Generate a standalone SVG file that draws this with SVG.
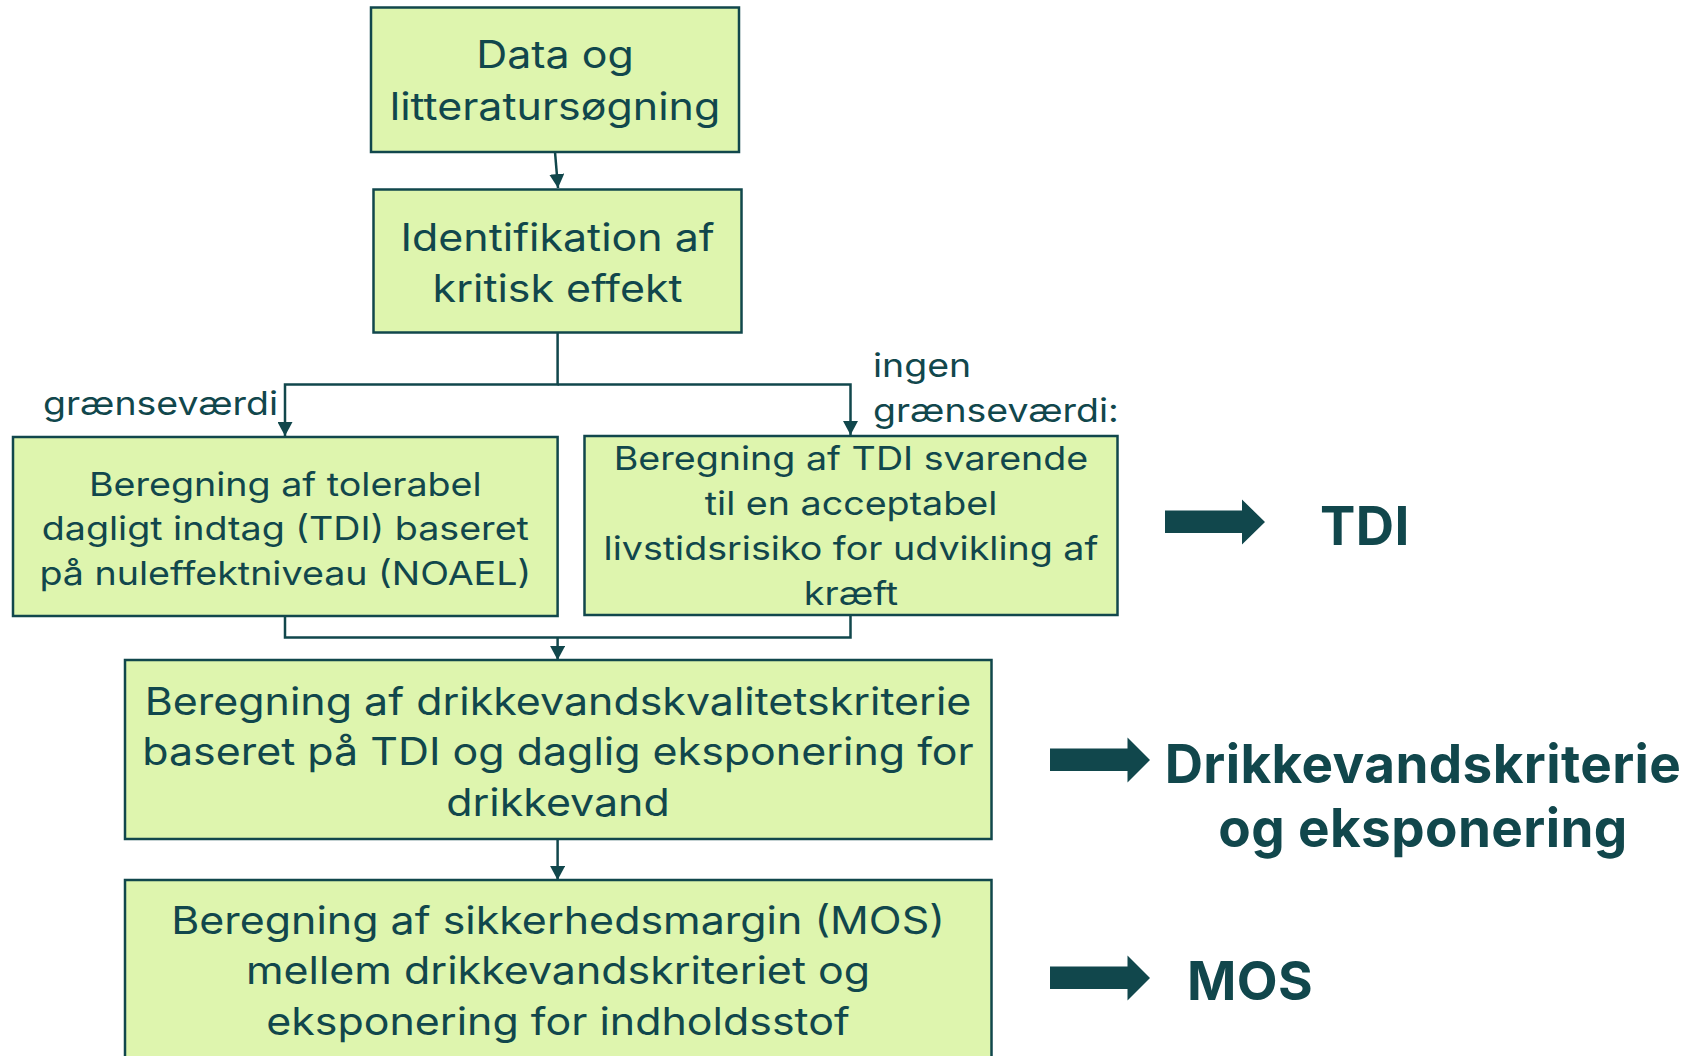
<svg xmlns="http://www.w3.org/2000/svg" width="1688" height="1056" viewBox="0 0 1688 1056">
<defs>
<style>
.box{fill:#def5ae;stroke:#11474c;stroke-width:2.5}
.t{font-family:Inter,"Noto Sans","Liberation Sans",sans-serif;fill:#11474c;text-anchor:middle}
.l{font-size:38px}
.s{font-size:33px}
.lab{font-family:Inter,"Noto Sans","Liberation Sans",sans-serif;fill:#11474c;font-size:33px}
.b{font-family:Inter,"Noto Sans","Liberation Sans",sans-serif;fill:#11474c;font-size:53px;font-weight:700;letter-spacing:0.4px}
.c{fill:none;stroke:#11474c;stroke-width:2.5}
.big{fill:#11474c}
</style>
<marker id="ah" markerWidth="14" markerHeight="15" refX="14" refY="7.5" orient="auto" markerUnits="userSpaceOnUse">
<path d="M0,0 L14,7.5 L0,15 z" fill="#11474c"/>
</marker>
</defs>
<rect width="1688" height="1056" fill="#ffffff"/>
<g id="connectors">
<path class="c" d="M555,152 L558,188" marker-end="url(#ah)"/>
<path class="c" d="M557.6,333 V384.5 H285 V436" marker-end="url(#ah)"/>
<path class="c" d="M557.6,384.5 H850.5 V435" marker-end="url(#ah)"/>
<path class="c" d="M285,616 V637.5 H850.5 V615"/>
<path class="c" d="M557.6,637.5 V660" marker-end="url(#ah)"/>
<path class="c" d="M557.6,839 V880" marker-end="url(#ah)"/>
</g>
<g id="node-data">
<rect class="box" x="371" y="7.5" width="368" height="144.5"/>
<g transform="translate(555,0) scale(1.13,1)">
<text class="t l" x="0" y="68">Data og</text>
<text class="t l" x="0" y="120">litteratursøgning</text>
</g>
</g>
<g id="node-identifikation">
<rect class="box" x="373.5" y="189.5" width="368" height="143"/>
<g transform="translate(557.6,0) scale(1.13,1)">
<text class="t l" x="0" y="251">Identifikation af</text>
<text class="t l" x="0" y="302">kritisk effekt</text>
</g>
</g>
<g id="label-graensevaerdi">
<g transform="translate(43,0) scale(1.135,1)">
<text class="lab" x="0" y="415">grænseværdi</text>
</g>
</g>
<g id="label-ingen">
<g transform="translate(873,0) scale(1.135,1)">
<text class="lab" x="0" y="377">ingen</text>
<text class="lab" x="0" y="422">grænseværdi:</text>
</g>
</g>
<g id="node-noael">
<rect class="box" x="13" y="437" width="544.6" height="179"/>
<g transform="translate(285.3,0) scale(1.14,1)">
<text class="t s" x="0" y="496">Beregning af tolerabel</text>
<text class="t s" x="0" y="540">dagligt indtag (TDI) baseret</text>
<text class="t s" x="0" y="585">på nuleffektniveau (NOAEL)</text>
</g>
</g>
<g id="node-tdi-kraeft">
<rect class="box" x="584.5" y="436" width="533" height="179"/>
<g transform="translate(851,0) scale(1.14,1)">
<text class="t s" x="0" y="470">Beregning af TDI svarende</text>
<text class="t s" x="0" y="515">til en acceptabel</text>
<text class="t s" x="0" y="560">livstidsrisiko for udvikling af</text>
<text class="t s" x="0" y="605">kræft</text>
</g>
</g>
<g id="node-drikkevand">
<rect class="box" x="125" y="660" width="866.5" height="179"/>
<g transform="translate(558,0) scale(1.13,1)">
<text class="t l" x="0" y="715">Beregning af drikkevandskvalitetskriterie</text>
<text class="t l" x="0" y="765.5">baseret på TDI og daglig eksponering for</text>
<text class="t l" x="0" y="816">drikkevand</text>
</g>
</g>
<g id="node-mos">
<rect class="box" x="125" y="880" width="866.5" height="200"/>
<g transform="translate(558,0) scale(1.13,1)">
<text class="t l" x="0" y="934">Beregning af sikkerhedsmargin (MOS)</text>
<text class="t l" x="0" y="984">mellem drikkevandskriteriet og</text>
<text class="t l" x="0" y="1035">eksponering for indholdsstof</text>
</g>
</g>
<g id="out-tdi">
<path class="big" d="M1165,510.5 H1242 V499.5 L1265,522 L1242,544.5 V533 H1165 z"/>
<text class="b" x="1320" y="544.5">TDI</text>
</g>
<g id="out-drikkevand">
<path class="big" d="M1050,748.5 H1127.5 V737.5 L1150,760 L1127.5,782.5 V771 H1050 z"/>
<text class="b" x="1423" y="782.6" text-anchor="middle">Drikkevandskriterie</text>
<text class="b" x="1423" y="846.7" text-anchor="middle">og eksponering</text>
</g>
<g id="out-mos">
<path class="big" d="M1050,966.5 H1127.5 V955.5 L1150,978 L1127.5,1000.5 V989 H1050 z"/>
<text class="b" x="1187" y="1000">MOS</text>
</g>
</svg>
